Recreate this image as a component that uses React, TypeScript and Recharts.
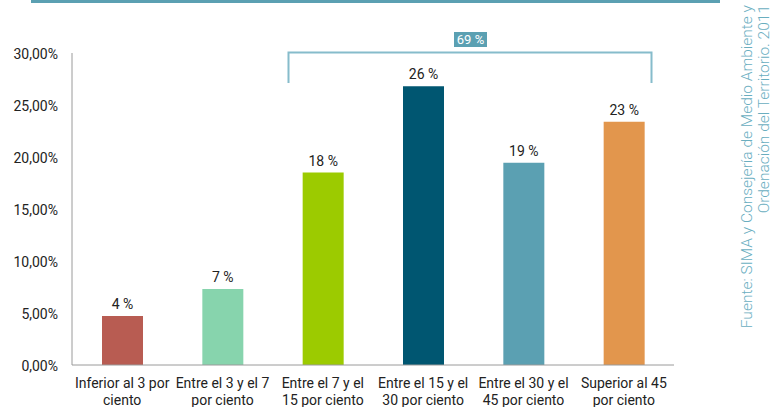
import { BarChart, Bar, XAxis, YAxis, Cell, LabelList } from 'recharts';

const categories = [
  'Inferior al 3 por\nciento',
  'Entre el 3 y el 7\npor ciento',
  'Entre el 7 y el\n15 por ciento',
  'Entre el 15 y el\n30 por ciento',
  'Entre el 30 y el\n45 por ciento',
  'Superior al 45\npor ciento',
];
const shares = [4.7, 7.3, 18.5, 26.8, 19.45, 23.4];
const shareLabels = ['4 %', '7 %', '18 %', '26 %', '19 %', '23 %'];
const barColors = ['#b85c52', '#87d4ad', '#9ccb00', '#005671', '#5ba0b2', '#e2964d'];
const yTicks = [0, 5, 10, 15, 20, 25, 30];
const bracketLabel = '69 %';
const sourceLines = ['Fuente: SIMA y Consejería de Medio Ambiente y', 'Ordenación del Territorio. 2011'];

const FONT = 'Roboto, "Open Sans", sans-serif';
const TEAL = '#5ba0b2';

const data = categories.map((name, i) => ({ name, value: shares[i], label: shareLabels[i] }));

const XTick = (props: any) => {
  const { x, y, payload } = props;
  const lines = String(payload.value).split('\n');
  return (
    <text x={x} y={y} textAnchor="middle" fill="#222" fontSize={14} fontFamily={FONT}>
      {lines.map((l, i) => (
        <tspan key={i} x={x} dy={i === 0 ? 21 : 17}>{l}</tspan>
      ))}
    </text>
  );
};

const YTick = (props: any) => {
  const { x, y, payload } = props;
  return (
    <text x={x} y={y} dy={6} textAnchor="end" fill="#222" fontSize={14} fontFamily={FONT}>
      {payload.value.toFixed(2).replace('.', ',')}%
    </text>
  );
};

export default function App() {
  return (
    <div style={{ position: 'absolute', left: 0, top: 0, width: 774, height: 407, background: '#fff', fontFamily: FONT }}>
      <BarChart width={774} height={407} data={data} margin={{ top: 53, right: 100, bottom: 0, left: 0 }}>
        <XAxis
          dataKey="name"
          height={42}
          interval={0}
          tick={<XTick />}
          tickLine={false}
          tickSize={0}
          axisLine={{ stroke: '#9a9a9a' }}
        />
        <YAxis
          width={72}
          domain={[0, 30]}
          ticks={yTicks}
          tick={<YTick />}
          tickLine={false}
          tickSize={0}
          tickMargin={14}
          axisLine={{ stroke: '#9a9a9a' }}
        />
        <Bar dataKey="value" barSize={41} isAnimationActive={false}>
          {data.map((d, i) => (
            <Cell key={d.name} fill={barColors[i]} />
          ))}
          <LabelList dataKey="label" position="top" offset={7} fill="#222" fontSize={14} fontFamily={FONT} />
        </Bar>
      </BarChart>
      {/* annotations: top rule, bracket, source note */}
      <svg width={774} height={407} style={{ position: 'absolute', left: 0, top: 0, pointerEvents: 'none' }}>
        <rect x={31} y={0} width={689} height={3} fill={TEAL} />
        <polyline points="288.5,83 288.5,52.5 651.5,52.5 651.5,83" fill="none" stroke="#86bccb" strokeWidth={2} />
        <rect x={454} y={32} width={33} height={15} fill={TEAL} />
        <text x={470.5} y={44} textAnchor="middle" fill="#fff" fontSize={13} fontFamily={FONT}>{bracketLabel}</text>
        {sourceLines.map((l, i) => (
          <text
            key={i}
            transform={`translate(${752 + i * 17}, 5) rotate(-90)`}
            textAnchor="end"
            fill="#6aaebf"
            fontSize={15.5}
            fontFamily={FONT}
            fontWeight={300}
          >
            {l}
          </text>
        ))}
      </svg>
    </div>
  );
}
